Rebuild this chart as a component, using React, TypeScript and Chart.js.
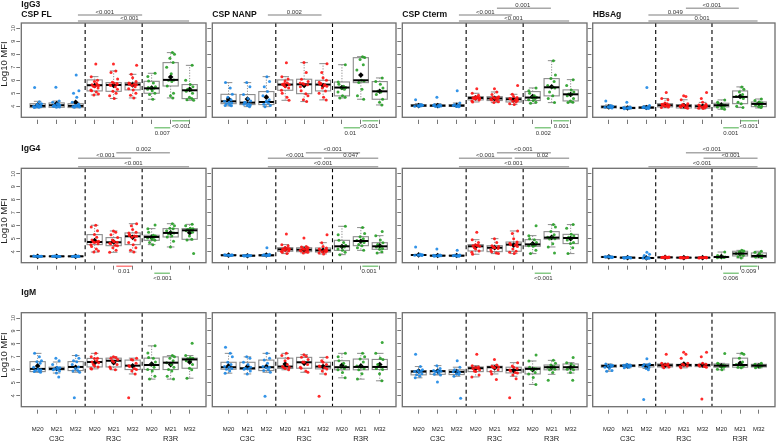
import React, { useEffect, useRef } from "react";
import { Chart, registerables } from "chart.js";
Chart.register(...registerables);

// ---------- labels ----------
const GROUP_LABELS = ["M20", "M21", "M32", "M20", "M21", "M32", "M20", "M21", "M32"];
const ARMS = ["C3C", "R3C", "R3R"];
const ARM_POS = [2, 5, 8];
const ISOTYPES = ["IgG3", "IgG4", "IgM"];
const ANTIGENS = ["CSP FL", "CSP NANP", "CSP Cterm", "HBsAg"];
const Y_TICKS = [4, 5, 6, 7, 8, 9, 10];
const Y_TITLE = "Log10 MFI";

// ---------- data: box = [lowWhisker, q1, median, q3, highWhisker, mean] ----------
// IgG3
const IGG3_CSPFL_BOX = [
  [3.88, 3.9, 4.03, 4.2, 4.38, 4.1], [3.9, 3.92, 4.08, 4.26, 4.4, 4.2], [3.88, 3.9, 4.03, 4.2, 4.3, 4.3],
  [4.87, 5.18, 5.62, 6.03, 6.28, 5.6], [4.6, 5.15, 5.64, 5.82, 6.72, 5.6], [4.64, 5.26, 5.67, 5.82, 6.46, 5.65],
  [4.54, 5.0, 5.38, 5.92, 6.54, 5.4], [4.64, 5.56, 6.03, 7.36, 8.13, 6.25], [4.46, 4.59, 5.23, 5.67, 7.15, 5.3],
];
const IGG3_CSPFL_PTS = [
  [5.45, 4.35, 4.2, 4.1, 4.05, 4.0, 4.0, 3.98, 3.95, 3.92, 3.9, 4.02, 4.15],
  [5.47, 4.4, 4.3, 4.2, 4.1, 4.08, 4.05, 4.0, 3.95, 3.92, 4.15, 4.02],
  [6.4, 5.2, 5.0, 4.7, 4.3, 4.15, 4.05, 4.0, 3.98, 3.95, 3.92, 4.02, 4.1],
  [7.25, 6.28, 6.0, 5.9, 5.75, 5.65, 5.6, 5.55, 5.5, 5.4, 5.25, 5.2, 5.1, 4.95, 4.87, 5.62],
  [7.25, 6.72, 6.6, 6.1, 5.85, 5.8, 5.7, 5.65, 5.6, 5.5, 5.3, 5.15, 5.0, 4.8, 4.6, 5.75],
  [7.15, 6.46, 6.2, 5.9, 5.8, 5.75, 5.7, 5.65, 5.6, 5.5, 5.35, 5.25, 5.0, 4.85, 4.64, 5.72],
  [6.54, 6.3, 5.95, 5.8, 5.5, 5.4, 5.38, 5.3, 5.2, 5.0, 4.9, 4.54, 5.45],
  [8.13, 8.0, 7.7, 7.36, 7.0, 6.5, 6.03, 6.0, 5.9, 5.56, 5.0, 4.8, 4.64],
  [7.15, 6.0, 5.67, 5.5, 5.3, 5.23, 5.15, 5.0, 4.7, 4.59, 4.5, 4.46],
];
const IGG3_CSPNANP_BOX = [
  [4.03, 4.2, 4.38, 4.92, 5.82, 4.55], [3.97, 4.13, 4.28, 4.9, 5.82, 4.55], [3.97, 4.13, 4.33, 5.13, 6.28, 4.7],
  [4.46, 5.23, 5.67, 6.03, 6.28, 5.6], [4.36, 4.97, 5.69, 6.08, 7.36, 5.6], [4.49, 5.18, 5.67, 6.0, 7.28, 5.6],
  [4.64, 4.8, 5.44, 5.87, 7.2, 5.45], [4.54, 5.82, 6.0, 7.74, 7.82, 6.4], [4.1, 4.54, 5.15, 5.9, 6.18, 5.15],
];
const IGG3_CSPNANP_PTS = [
  [5.82, 5.4, 4.92, 4.7, 4.5, 4.38, 4.3, 4.25, 4.2, 4.1, 4.05, 4.03],
  [5.82, 5.5, 4.9, 4.6, 4.4, 4.28, 4.2, 4.15, 4.1, 4.05, 3.97, 4.3],
  [6.28, 5.9, 5.5, 5.13, 4.8, 4.5, 4.33, 4.25, 4.15, 4.05, 3.97, 4.4],
  [7.35, 6.28, 6.1, 5.95, 5.8, 5.7, 5.65, 5.6, 5.5, 5.4, 5.23, 5.0, 4.7, 4.46, 5.75],
  [7.36, 6.6, 6.08, 5.9, 5.75, 5.7, 5.65, 5.5, 5.2, 4.97, 4.8, 4.5, 4.36, 5.8],
  [7.28, 6.6, 6.2, 6.0, 5.85, 5.7, 5.65, 5.55, 5.4, 5.18, 5.0, 4.7, 4.49, 5.75, 5.6],
  [7.2, 5.87, 5.7, 5.55, 5.45, 5.4, 5.3, 5.1, 4.8, 4.7, 4.64],
  [7.82, 7.75, 7.6, 7.2, 6.8, 6.0, 5.95, 5.82, 5.3, 4.8, 4.54],
  [6.18, 5.9, 5.7, 5.4, 5.15, 5.1, 4.9, 4.54, 4.3, 4.1],
];
const IGG3_CSPCTERM_BOX = [
  [3.97, 3.99, 4.05, 4.13, 4.2, 4.05], [3.97, 3.99, 4.05, 4.1, 4.2, 4.05], [3.97, 3.99, 4.05, 4.12, 4.25, 4.08],
  [4.33, 4.49, 4.64, 4.74, 5.0, 4.65], [4.28, 4.44, 4.6, 4.74, 5.1, 4.6], [4.13, 4.33, 4.54, 4.67, 4.92, 4.5],
  [4.23, 4.44, 4.67, 5.13, 5.41, 4.75], [4.28, 4.8, 5.46, 6.13, 7.51, 5.5], [4.28, 4.41, 4.92, 5.26, 6.05, 4.9],
];
const IGG3_CSPCTERM_PTS = [
  [4.5, 4.13, 4.08, 4.05, 4.03, 4.0, 3.98, 4.1],
  [4.7, 4.1, 4.06, 4.05, 4.02, 3.99, 3.97, 4.12],
  [5.2, 4.25, 4.12, 4.08, 4.05, 4.02, 3.99, 3.97],
  [5.35, 5.0, 4.85, 4.74, 4.7, 4.66, 4.64, 4.6, 4.55, 4.49, 4.4, 4.33, 4.68, 4.58],
  [5.35, 5.1, 4.9, 4.74, 4.7, 4.62, 4.6, 4.55, 4.48, 4.44, 4.35, 4.28, 4.66],
  [5.6, 4.92, 4.75, 4.67, 4.6, 4.55, 4.5, 4.45, 4.38, 4.33, 4.2, 4.13, 4.58],
  [5.41, 5.2, 5.0, 4.8, 4.7, 4.67, 4.6, 4.5, 4.44, 4.3, 4.23],
  [7.51, 6.4, 6.13, 5.9, 5.6, 5.46, 5.4, 5.1, 4.8, 4.6, 4.28],
  [6.05, 5.6, 5.26, 5.1, 4.95, 4.92, 4.8, 4.6, 4.41, 4.3, 4.28],
];
const IGG3_HBSAG_BOX = [
  [3.85, 3.87, 3.95, 4.03, 4.1, 3.95], [3.8, 3.82, 3.87, 3.92, 4.0, 3.87], [3.82, 3.84, 3.9, 3.95, 4.05, 3.9],
  [3.88, 3.95, 4.08, 4.2, 4.6, 4.1], [3.82, 3.87, 4.03, 4.13, 4.5, 4.05], [3.8, 3.85, 4.0, 4.1, 4.3, 4.0],
  [3.77, 3.95, 4.08, 4.23, 4.49, 4.1], [3.9, 4.2, 4.72, 5.18, 5.49, 4.75], [3.87, 3.97, 4.18, 4.33, 4.56, 4.2],
];
const IGG3_HBSAG_PTS = [
  [4.4, 4.05, 4.0, 3.96, 3.95, 3.93, 3.9, 3.87],
  [4.3, 3.95, 3.9, 3.88, 3.87, 3.85, 3.82, 3.8],
  [5.45, 4.05, 3.97, 3.93, 3.9, 3.88, 3.85, 3.82, 3.95],
  [5.05, 4.6, 4.5, 4.25, 4.2, 4.12, 4.08, 4.05, 4.0, 3.95, 3.9, 4.15, 4.02],
  [4.8, 4.75, 4.5, 4.2, 4.13, 4.08, 4.03, 4.0, 3.95, 3.9, 3.85, 4.05],
  [5.05, 4.6, 4.3, 4.15, 4.1, 4.03, 4.0, 3.98, 3.95, 3.88, 3.85, 3.82, 4.05],
  [4.49, 4.3, 4.2, 4.1, 4.08, 4.05, 4.0, 3.95, 3.85, 3.77],
  [5.49, 5.3, 5.1, 4.9, 4.75, 4.72, 4.6, 4.3, 4.2, 4.0, 3.9],
  [4.56, 4.45, 4.33, 4.25, 4.2, 4.18, 4.1, 4.0, 3.97, 3.9],
];
// IgG4
const IGG4_CSPFL_BOX = [
  [3.6, 3.62, 3.64, 3.66, 3.68, 3.64], [3.6, 3.62, 3.64, 3.66, 3.68, 3.64], [3.6, 3.62, 3.64, 3.66, 3.68, 3.64],
  [3.97, 4.54, 4.74, 5.31, 6.03, 4.85], [3.95, 4.46, 4.72, 5.08, 5.59, 4.75], [3.97, 4.54, 5.18, 5.44, 6.15, 5.1],
  [4.54, 4.87, 5.13, 5.26, 5.77, 5.1], [4.36, 5.13, 5.44, 5.77, 6.15, 5.45], [4.9, 4.95, 5.64, 5.77, 6.1, 5.45],
];
const IGG4_CSPFL_PTS = [
  [3.64, 3.63, 3.65, 3.64, 3.62, 3.66, 3.64, 3.65],
  [3.64, 3.63, 3.65, 3.64, 3.62, 3.66, 3.64, 3.65],
  [3.64, 3.63, 3.65, 3.64, 3.62, 3.66, 3.64, 3.65],
  [6.03, 5.9, 5.6, 5.31, 5.1, 4.9, 4.8, 4.74, 4.7, 4.6, 4.54, 4.4, 4.2, 4.05, 3.97, 4.76],
  [5.59, 5.5, 5.3, 5.08, 4.9, 4.8, 4.72, 4.65, 4.6, 4.5, 4.46, 4.3, 4.1, 3.95, 4.76],
  [6.15, 6.0, 5.7, 5.5, 5.44, 5.3, 5.2, 5.18, 5.1, 4.9, 4.7, 4.54, 4.3, 4.1, 3.97, 5.25],
  [6.05, 5.77, 5.5, 5.26, 5.2, 5.13, 5.1, 5.05, 4.95, 4.87, 4.7, 4.54],
  [6.15, 6.0, 5.8, 5.77, 5.6, 5.45, 5.44, 5.35, 5.2, 5.13, 4.8, 4.36],
  [6.1, 6.0, 5.8, 5.77, 5.7, 5.64, 5.6, 5.5, 5.2, 4.95, 4.9, 3.85],
];
const IGG4_CSPNANP_BOX = [
  [3.68, 3.7, 3.72, 3.77, 3.8, 3.73], [3.64, 3.66, 3.69, 3.72, 3.75, 3.69], [3.66, 3.68, 3.72, 3.76, 3.8, 3.74],
  [3.85, 4.03, 4.18, 4.31, 4.54, 4.2], [3.9, 4.0, 4.15, 4.3, 4.4, 4.15], [3.82, 3.97, 4.1, 4.28, 4.69, 4.1],
  [3.77, 4.1, 4.41, 4.87, 5.95, 4.4], [4.1, 4.46, 4.82, 5.15, 5.85, 4.8], [3.9, 4.18, 4.41, 4.69, 5.23, 4.45],
];
const IGG4_CSPNANP_PTS = [
  [3.72, 3.71, 3.74, 3.73, 3.7, 3.76, 3.72, 3.75],
  [3.69, 3.68, 3.7, 3.67, 3.71, 3.69, 3.72, 3.66],
  [4.3, 3.8, 3.76, 3.74, 3.72, 3.7, 3.68, 3.73],
  [5.35, 4.54, 4.45, 4.31, 4.25, 4.2, 4.18, 4.15, 4.1, 4.05, 4.03, 3.95, 3.85, 4.22],
  [5.05, 4.4, 4.35, 4.3, 4.22, 4.18, 4.15, 4.1, 4.05, 4.0, 3.95, 3.9, 4.2],
  [5.3, 4.69, 4.4, 4.28, 4.2, 4.13, 4.1, 4.05, 4.0, 3.97, 3.9, 3.82, 4.15],
  [5.95, 5.3, 4.87, 4.7, 4.5, 4.41, 4.35, 4.2, 4.1, 3.95, 3.77],
  [5.85, 5.4, 5.15, 5.0, 4.85, 4.82, 4.7, 4.55, 4.46, 4.3, 4.1],
  [5.55, 5.23, 4.9, 4.69, 4.55, 4.41, 4.35, 4.25, 4.18, 4.0, 3.9],
];
const IGG4_CSPCTERM_BOX = [
  [3.7, 3.72, 3.74, 3.77, 3.8, 3.75], [3.65, 3.67, 3.69, 3.72, 3.75, 3.7], [3.65, 3.67, 3.69, 3.72, 3.75, 3.7],
  [3.8, 4.05, 4.41, 4.54, 4.92, 4.4], [3.85, 4.0, 4.3, 4.46, 5.0, 4.3], [3.85, 4.03, 4.54, 4.74, 5.59, 4.5],
  [3.85, 4.41, 4.56, 4.92, 5.23, 4.6], [4.36, 4.97, 5.08, 5.54, 6.08, 5.1], [3.85, 4.62, 5.05, 5.33, 6.08, 5.0],
];
const IGG4_CSPCTERM_PTS = [
  [4.36, 3.8, 3.77, 3.75, 3.74, 3.73, 3.72, 3.7],
  [4.2, 3.75, 3.72, 3.7, 3.69, 3.68, 3.67, 3.65],
  [4.1, 3.75, 3.72, 3.7, 3.69, 3.68, 3.67, 3.65],
  [5.5, 4.92, 4.7, 4.54, 4.5, 4.45, 4.41, 4.3, 4.2, 4.05, 3.95, 3.8, 4.48],
  [5.0, 4.7, 4.46, 4.4, 4.35, 4.3, 4.25, 4.15, 4.0, 3.9, 3.85, 4.32],
  [5.59, 5.4, 5.0, 4.74, 4.65, 4.54, 4.5, 4.4, 4.2, 4.03, 3.95, 3.85, 4.6],
  [6.0, 5.23, 5.0, 4.92, 4.7, 4.56, 4.5, 4.45, 4.41, 4.1, 3.85],
  [6.08, 5.9, 5.54, 5.3, 5.1, 5.08, 5.0, 4.97, 4.6, 4.36, 3.9],
  [6.08, 5.8, 5.33, 5.2, 5.1, 5.05, 4.9, 4.7, 4.62, 4.3, 3.85],
];
const IGG4_HBSAG_BOX = [
  [3.52, 3.55, 3.59, 3.63, 3.67, 3.6], [3.48, 3.5, 3.54, 3.57, 3.6, 3.54], [3.46, 3.48, 3.51, 3.55, 3.6, 3.52],
  [3.5, 3.53, 3.56, 3.59, 3.62, 3.56], [3.5, 3.52, 3.54, 3.56, 3.58, 3.54], [3.5, 3.52, 3.54, 3.56, 3.58, 3.54],
  [3.52, 3.55, 3.59, 3.63, 3.97, 3.62], [3.52, 3.67, 3.85, 4.03, 4.1, 3.85], [3.52, 3.56, 3.67, 3.9, 4.03, 3.7],
];
const IGG4_HBSAG_PTS = [
  [3.59, 3.6, 3.58, 3.62, 3.57, 3.61, 3.59, 3.55],
  [3.54, 3.53, 3.55, 3.56, 3.52, 3.54, 3.57, 3.5],
  [3.95, 3.8, 3.7, 3.55, 3.51, 3.5, 3.48, 3.52],
  [3.56, 3.55, 3.57, 3.58, 3.54, 3.56, 3.59, 3.53, 3.6, 3.55],
  [3.54, 3.53, 3.55, 3.56, 3.52, 3.54, 3.55, 3.53, 3.54],
  [3.54, 3.55, 3.53, 3.56, 3.52, 3.54, 3.55, 3.53],
  [3.97, 3.7, 3.62, 3.6, 3.59, 3.57, 3.55, 3.53],
  [4.1, 4.05, 4.0, 3.9, 3.85, 3.8, 3.7, 3.6, 3.52],
  [4.03, 3.95, 3.85, 3.7, 3.67, 3.62, 3.58, 3.55],
];
// IgM
const IGM_CSPFL_BOX = [
  [5.81, 5.86, 6.07, 6.63, 7.27, 6.3], [5.75, 6.0, 6.07, 6.2, 6.6, 6.1], [5.81, 5.94, 6.22, 6.63, 7.1, 6.2],
  [6.07, 6.22, 6.6, 6.88, 7.27, 6.55], [6.0, 6.22, 6.7, 6.9, 7.0, 6.55], [5.68, 6.02, 6.32, 6.75, 6.9, 6.3],
  [5.28, 6.02, 6.37, 6.9, 7.85, 6.45], [5.28, 6.02, 6.55, 7.0, 7.1, 6.4], [5.35, 6.12, 6.8, 6.9, 7.1, 6.6],
];
const IGM_CSPFL_PTS = [
  [7.27, 7.0, 6.7, 6.63, 6.5, 6.2, 6.07, 6.0, 5.95, 5.9, 5.86, 5.81],
  [6.9, 6.7, 6.4, 6.2, 6.15, 6.07, 6.05, 6.0, 5.9, 5.75, 5.45],
  [7.1, 6.9, 6.7, 6.63, 6.4, 6.22, 6.1, 5.94, 5.9, 5.81, 3.85],
  [7.27, 7.0, 6.9, 6.88, 6.7, 6.6, 6.55, 6.4, 6.3, 6.22, 6.1, 6.07],
  [7.0, 6.95, 6.9, 6.8, 6.7, 6.6, 6.4, 6.22, 6.1, 6.0],
  [6.9, 6.8, 6.75, 6.5, 6.32, 6.25, 6.1, 6.02, 5.9, 5.68, 3.85],
  [7.85, 7.3, 6.95, 6.9, 6.6, 6.37, 6.2, 6.02, 5.9, 5.5, 5.28],
  [7.1, 7.0, 6.9, 6.7, 6.55, 6.4, 6.2, 6.02, 5.9, 5.5, 5.28],
  [8.05, 7.1, 6.95, 6.9, 6.85, 6.8, 6.7, 6.4, 6.12, 6.0, 5.35],
];
const IGM_CSPNANP_BOX = [
  [5.74, 6.04, 6.2, 6.58, 7.27, 6.3], [5.68, 6.04, 6.12, 6.58, 7.0, 6.25], [5.81, 5.94, 6.2, 6.75, 7.27, 6.25],
  [6.0, 6.1, 6.25, 6.9, 7.27, 6.45], [5.81, 6.12, 6.58, 6.96, 7.17, 6.5], [5.68, 6.07, 6.25, 6.58, 6.96, 6.25],
  [5.38, 6.0, 6.2, 6.7, 7.27, 6.35], [5.28, 6.0, 6.22, 6.83, 7.27, 6.3], [5.15, 6.02, 6.22, 6.8, 7.27, 6.4],
];
const IGM_CSPNANP_PTS = [
  [7.75, 7.27, 7.0, 6.58, 6.4, 6.25, 6.2, 6.1, 6.04, 5.9, 5.74],
  [7.0, 6.9, 6.58, 6.4, 6.2, 6.12, 6.08, 6.04, 5.9, 5.68],
  [7.27, 6.9, 6.75, 6.5, 6.25, 6.2, 6.15, 6.0, 5.94, 5.81, 3.95],
  [7.27, 7.1, 6.9, 6.7, 6.4, 6.25, 6.2, 6.15, 6.1, 6.0],
  [7.17, 7.05, 6.96, 6.8, 6.6, 6.58, 6.4, 6.2, 6.12, 5.9, 5.81],
  [6.96, 6.7, 6.58, 6.4, 6.3, 6.25, 6.15, 6.07, 5.9, 5.68, 3.95],
  [7.27, 7.0, 6.7, 6.5, 6.25, 6.2, 6.1, 6.0, 5.8, 5.38],
  [7.27, 7.0, 6.83, 6.6, 6.3, 6.22, 6.1, 6.0, 5.7, 5.28],
  [8.1, 7.27, 6.9, 6.8, 6.4, 6.22, 6.1, 6.02, 5.7, 5.15],
];
const IGM_CSPCTERM_BOX = [
  [5.38, 5.61, 5.86, 5.94, 6.25, 5.9], [5.6, 5.65, 5.89, 5.94, 6.32, 5.9], [5.5, 5.63, 5.84, 6.0, 6.2, 5.85],
  [5.45, 5.86, 6.12, 6.22, 6.32, 6.1], [5.68, 5.86, 6.2, 6.27, 6.37, 6.15], [5.5, 5.76, 5.99, 6.2, 6.55, 5.95],
  [4.87, 5.68, 6.07, 6.2, 6.68, 6.0], [5.65, 6.0, 6.2, 6.37, 6.73, 6.2], [5.75, 6.0, 6.2, 6.45, 6.55, 6.2],
];
const IGM_CSPCTERM_PTS = [
  [7.2, 6.25, 6.0, 5.94, 5.9, 5.86, 5.8, 5.7, 5.61, 5.5, 5.38],
  [6.32, 6.1, 5.94, 5.92, 5.89, 5.85, 5.75, 5.65, 5.6, 5.05],
  [6.7, 6.2, 6.0, 5.9, 5.84, 5.8, 5.7, 5.63, 5.5, 3.8],
  [7.2, 6.32, 6.22, 6.18, 6.12, 6.1, 6.0, 5.9, 5.86, 5.6, 5.45],
  [6.8, 6.37, 6.27, 6.22, 6.2, 6.15, 6.0, 5.86, 5.68, 5.25],
  [6.55, 6.3, 6.2, 6.1, 5.99, 5.9, 5.8, 5.76, 5.6, 5.3, 3.85],
  [7.15, 6.68, 6.2, 6.1, 6.07, 6.0, 5.8, 5.68, 5.4, 4.87],
  [6.73, 6.5, 6.37, 6.25, 6.2, 6.15, 6.05, 6.0, 5.8, 5.2],
  [6.95, 6.55, 6.45, 6.3, 6.2, 6.15, 6.05, 6.0, 5.8, 5.2],
];
const IGM_HBSAG_BOX = [
  [5.89, 6.2, 6.3, 6.37, 6.45, 6.25], [6.15, 6.25, 6.32, 6.37, 6.42, 6.3], [6.1, 6.22, 6.37, 6.4, 6.45, 6.25],
  [6.15, 6.22, 6.35, 6.45, 6.5, 6.35], [6.15, 6.25, 6.37, 6.42, 6.5, 6.45], [6.2, 6.25, 6.37, 6.42, 6.5, 6.37],
  [6.0, 6.2, 6.32, 6.45, 6.5, 6.3], [6.15, 6.2, 6.37, 6.9, 7.27, 6.5], [6.15, 6.22, 6.32, 6.42, 6.5, 6.3],
];
const IGM_HBSAG_PTS = [
  [6.45, 6.37, 6.33, 6.3, 6.25, 6.2, 6.1, 5.95, 5.89],
  [6.42, 6.37, 6.35, 6.32, 6.3, 6.25, 6.2, 6.15],
  [6.85, 6.45, 6.4, 6.37, 6.3, 6.22, 6.1, 6.0, 3.7],
  [7.2, 6.5, 6.45, 6.4, 6.35, 6.3, 6.22, 6.15],
  [7.35, 7.2, 6.9, 6.5, 6.42, 6.37, 6.3, 6.25, 6.15],
  [7.35, 7.0, 6.5, 6.42, 6.37, 6.3, 6.25, 6.2, 3.75],
  [7.25, 6.5, 6.45, 6.35, 6.32, 6.25, 6.2, 6.05, 6.0],
  [7.27, 7.2, 6.9, 6.6, 6.4, 6.37, 6.3, 6.2, 6.15],
  [6.5, 6.42, 6.38, 6.32, 6.28, 6.22, 6.15],
];

// ---------- significance annotations: [fromX, toX, labelX, level, p-value] ----------
const IGG3_CSPFL_TOP = [[3.12, 6.5, 4.53, 1, "<0.001"], [3.12, 8.97, 5.83, 2, "<0.001"]];
const IGG3_CSPFL_BOT = [[8.08, 9.0, 8.55, 0, "<0.001"], [7.14, 7.98, 7.56, 1, "0.007"]];
const IGG3_CSPNANP_TOP = [[3.08, 5.92, 4.48, 1, "0.002"]];
const IGG3_CSPNANP_BOT = [[8.08, 8.92, 8.43, 0, "<0.001"], [7.09, 7.96, 7.44, 1, "0.01"]];
const IGG3_CSPCTERM_TOP = [[5.12, 7.96, 6.48, 0, "0.001"], [3.12, 5.92, 4.51, 1, "<0.001"], [3.12, 8.92, 5.99, 2, "<0.001"]];
const IGG3_CSPCTERM_BOT = [[8.08, 8.92, 8.51, 0, "0.001"], [7.11, 7.96, 7.56, 1, "0.002"]];
const IGG3_HBSAG_TOP = [[5.11, 7.93, 6.49, 0, "<0.001"], [3.11, 5.92, 4.54, 1, "0.049"], [3.11, 8.93, 5.97, 2, "0.001"]];
const IGG3_HBSAG_BOT = [[8.05, 8.93, 8.46, 0, "<0.001"], [7.1, 7.93, 7.5, 1, "0.001"]];
const IGG4_CSPFL_TOP = [[5.14, 7.96, 6.57, 0, "0.002"], [3.13, 5.92, 4.57, 1, "<0.001"], [3.13, 8.97, 6.04, 2, "<0.001"]];
const IGG4_CSPFL_BOT = [[5.14, 5.96, 5.54, 0, "0.01"], [7.14, 7.96, 7.57, 1, "<0.001"]];
const IGG4_CSPNANP_TOP = [[5.09, 7.96, 6.51, 0, "<0.001"], [3.08, 5.92, 4.51, 1, "<0.001"], [6.05, 8.92, 7.47, 1, "0.047"], [3.08, 8.92, 6.0, 2, "<0.001"]];
const IGG4_CSPNANP_BOT = [[8.08, 8.92, 8.43, 0, "0.001"]];
const IGG4_CSPCTERM_TOP = [[5.12, 7.96, 6.51, 0, "<0.001"], [3.12, 5.92, 4.51, 1, "<0.001"], [6.05, 8.92, 7.52, 1, "0.02"], [3.12, 8.92, 5.99, 2, "<0.001"]];
const IGG4_CSPCTERM_BOT = [[7.11, 7.96, 7.56, 1, "<0.001"]];
const IGG4_HBSAG_TOP = [[5.11, 7.93, 6.49, 0, "<0.001"], [6.05, 8.93, 7.5, 1, "<0.001"], [3.11, 8.93, 5.97, 2, "<0.001"]];
const IGG4_HBSAG_BOT = [[8.05, 8.93, 8.46, 0, "0.009"], [7.1, 7.93, 7.5, 1, "0.006"]];
const NONE: any[] = [];

const PANELS = [
  [
    { box: IGG3_CSPFL_BOX, pts: IGG3_CSPFL_PTS, top: IGG3_CSPFL_TOP, bot: IGG3_CSPFL_BOT },
    { box: IGG3_CSPNANP_BOX, pts: IGG3_CSPNANP_PTS, top: IGG3_CSPNANP_TOP, bot: IGG3_CSPNANP_BOT },
    { box: IGG3_CSPCTERM_BOX, pts: IGG3_CSPCTERM_PTS, top: IGG3_CSPCTERM_TOP, bot: IGG3_CSPCTERM_BOT },
    { box: IGG3_HBSAG_BOX, pts: IGG3_HBSAG_PTS, top: IGG3_HBSAG_TOP, bot: IGG3_HBSAG_BOT },
  ],
  [
    { box: IGG4_CSPFL_BOX, pts: IGG4_CSPFL_PTS, top: IGG4_CSPFL_TOP, bot: IGG4_CSPFL_BOT },
    { box: IGG4_CSPNANP_BOX, pts: IGG4_CSPNANP_PTS, top: IGG4_CSPNANP_TOP, bot: IGG4_CSPNANP_BOT },
    { box: IGG4_CSPCTERM_BOX, pts: IGG4_CSPCTERM_PTS, top: IGG4_CSPCTERM_TOP, bot: IGG4_CSPCTERM_BOT },
    { box: IGG4_HBSAG_BOX, pts: IGG4_HBSAG_PTS, top: IGG4_HBSAG_TOP, bot: IGG4_HBSAG_BOT },
  ],
  [
    { box: IGM_CSPFL_BOX, pts: IGM_CSPFL_PTS, top: NONE, bot: NONE },
    { box: IGM_CSPNANP_BOX, pts: IGM_CSPNANP_PTS, top: NONE, bot: NONE },
    { box: IGM_CSPCTERM_BOX, pts: IGM_CSPCTERM_PTS, top: NONE, bot: NONE },
    { box: IGM_HBSAG_BOX, pts: IGM_HBSAG_PTS, top: NONE, bot: NONE },
  ],
];

// ---------- layout / style ----------
const FONT = '"Liberation Sans", Arial, Helvetica, sans-serif';
const COL_CANVAS = [[0, 210], [205, 400], [395, 591], [587, 779]];
const PLOT_X = [[21.3, 208], [212.3, 397.3], [402.3, 589.3], [592.7, 778]];
const ROW_CANVAS = [[0, 140], [140, 285], [285, 442]];
const PLOT_Y = [[23, 117.3], [168.3, 262.7], [312.7, 406.7]];
const Y_MIN = 3.15, Y_MAX = 10.41, X_MIN = 0.14, X_MAX = 9.86;
const TOP_LEVELS = [[-14.7, -8, -2], [-15.6, -10, -1.6], [0, 0, 0]];
const BOT_LEVELS = [3.5, 10.5];
const YLAB_CENTER = [64, 221, 355];
const ROW_TITLE_Y = [4.5, 149, 293];
const ANTIGEN_TITLE_Y = 15;
const ARM_LABEL_Y = 439.3;
const SEPARATORS = [3.5, 6.5];
const JIT = [-0.16, 0.09, 0.2, -0.04, 0.13, -0.21, 0.03, 0.17, -0.11, 0.06, -0.18, 0.15, -0.01, 0.11, -0.14, 0.21, -0.07, 0.0, 0.18, -0.2];
const ARM_POINT = ["rgba(30,136,229,0.9)", "rgba(255,20,20,0.9)", "rgba(40,160,40,0.9)"];
const ARM_LINE = ["#5b9bd5", "#ff6060", "#66bb66"];

function seg(ctx: CanvasRenderingContext2D, x1: number, y1: number, x2: number, y2: number) {
  ctx.beginPath();
  ctx.moveTo(x1, y1);
  ctx.lineTo(x2, y2);
  ctx.stroke();
}

function Panel({ r, c }: { r: number; c: number }) {
  const ref = useRef<HTMLCanvasElement>(null);
  const [cx0, cx1] = COL_CANVAS[c];
  const [cy0, cy1] = ROW_CANVAS[r];
  const W = cx1 - cx0;
  const H = cy1 - cy0;

  useEffect(() => {
    const p: any = PANELS[r][c];
    const [px0, px1] = PLOT_X[c];
    const [py0, py1] = PLOT_Y[r];
    const last = r === 2;
    const xAxisH = last ? 26 : 8;
    const padBottom = cy1 - py1 - xAxisH;
    const yAxisW = px0 - cx0;

    const datasets: any[] = [0, 1, 2].map((arm) => {
      const data: any[] = [];
      for (let g = arm * 3; g < arm * 3 + 3; g++) {
        p.pts[g].forEach((v: number, i: number) => {
          data.push({ x: g + 1 + JIT[(i + g * 3) % JIT.length], y: v });
        });
      }
      return {
        type: "scatter",
        data,
        backgroundColor: ARM_POINT[arm],
        borderWidth: 0,
        pointRadius: 1.5,
      };
    });
    datasets.push({
      type: "scatter",
      data: p.box.map((b: number[], g: number) => ({ x: g + 1, y: b[5] })),
      backgroundColor: "#000",
      borderWidth: 0,
      pointStyle: "rectRot",
      pointRadius: 2.8,
    });

    const decor = {
      id: "decor",
      beforeDatasetsDraw(chart: any) {
        const { ctx, chartArea: a, scales } = chart;
        const xs = scales.x, ys = scales.y;
        ctx.save();
        ctx.strokeStyle = "#000";
        ctx.lineWidth = 1.1;
        ctx.setLineDash([4, 3]);
        SEPARATORS.forEach((s) => {
          const px = xs.getPixelForValue(s);
          seg(ctx, px, a.top, px, a.bottom);
        });
        p.box.forEach((b: number[], g: number) => {
          const cx = xs.getPixelForValue(g + 1);
          const hw = xs.getPixelForValue(g + 1.4) - cx;
          const [lo, q1, , q3, hi] = b.map((v) => ys.getPixelForValue(v));
          ctx.strokeStyle = "#8c8c8c";
          ctx.lineWidth = 1;
          ctx.setLineDash([1.2, 1.5]);
          seg(ctx, cx, q3, cx, hi);
          seg(ctx, cx, q1, cx, lo);
          ctx.setLineDash([]);
          seg(ctx, cx - hw / 2, hi, cx + hw / 2, hi);
          seg(ctx, cx - hw / 2, lo, cx + hw / 2, lo);
          ctx.fillStyle = "rgba(255,255,255,0.35)";
          ctx.fillRect(cx - hw, q3, 2 * hw, q1 - q3);
          ctx.lineWidth = 1.1;
          ctx.strokeRect(cx - hw, q3, 2 * hw, q1 - q3);
        });
        ctx.restore();
      },
      afterDatasetDraw(chart: any, args: any) {
        if (args.index !== 2) return;
        const { ctx, scales } = chart;
        const xs = scales.x, ys = scales.y;
        ctx.save();
        ctx.strokeStyle = "#000";
        ctx.lineWidth = 2;
        p.box.forEach((b: number[], g: number) => {
          const cx = xs.getPixelForValue(g + 1);
          const hw = xs.getPixelForValue(g + 1.4) - cx;
          const m = ys.getPixelForValue(b[2]);
          seg(ctx, cx - hw, m, cx + hw, m);
        });
        ctx.restore();
      },
      afterDraw(chart: any) {
        const { ctx, chartArea: a, scales } = chart;
        const xs = scales.x, ys = scales.y;
        ctx.save();
        ctx.strokeStyle = "#6e6e6e";
        ctx.lineWidth = 1.3;
        ctx.strokeRect(a.left, a.top, a.right - a.left, a.bottom - a.top);
        ctx.font = `6px ${FONT}`;
        ctx.textAlign = "center";
        p.top.forEach(([x1, x2, tx, lvl, label]: any) => {
          const yy = a.top + TOP_LEVELS[r][lvl];
          ctx.strokeStyle = "#a8a8a8";
          ctx.lineWidth = 1.4;
          seg(ctx, xs.getPixelForValue(x1), yy, xs.getPixelForValue(x2), yy);
          ctx.fillStyle = "#333";
          ctx.textBaseline = "alphabetic";
          ctx.fillText(label, xs.getPixelForValue(tx), yy - 1.5);
        });
        p.bot.forEach(([x1, x2, tx, lvl, label]: any) => {
          const yy = a.bottom + BOT_LEVELS[lvl];
          const arm = Math.min(2, Math.floor((x1 - 0.5) / 3));
          ctx.strokeStyle = ARM_LINE[arm];
          ctx.lineWidth = 1.2;
          seg(ctx, xs.getPixelForValue(x1), yy, xs.getPixelForValue(x2), yy);
          ctx.fillStyle = "#333";
          ctx.textBaseline = "middle";
          ctx.fillText(label, xs.getPixelForValue(tx), yy + 5.3);
        });
        // arm labels under the bottom row
        if (last) {
          ctx.fillStyle = "#222";
          ctx.font = `7.6px ${FONT}`;
          ctx.textAlign = "center";
          ctx.textBaseline = "middle";
          ARM_POS.forEach((v, k) => ctx.fillText(ARMS[k], xs.getPixelForValue(v), ARM_LABEL_Y - cy0));
        }
        ctx.fillStyle = "#111";
        ctx.textAlign = "left";
        ctx.textBaseline = "middle";
        ctx.font = `bold 8.6px ${FONT}`;
        if (c === 0) ctx.fillText(ISOTYPES[r], a.left, ROW_TITLE_Y[r] - cy0);
        if (r === 0) ctx.fillText(ANTIGENS[c], a.left, ANTIGEN_TITLE_Y - cy0);
        if (c === 0) {
          ctx.fillStyle = "#444";
          ctx.font = `5.5px ${FONT}`;
          ctx.textAlign = "center";
          ys.ticks.forEach((t: any) => {
            const py = ys.getPixelForValue(t.value);
            ctx.save();
            ctx.translate(a.left - 8, py);
            ctx.rotate(-Math.PI / 2);
            ctx.fillText(String(t.value), 0, 0);
            ctx.restore();
          });
          ctx.fillStyle = "#222";
          ctx.font = `9.5px ${FONT}`;
          ctx.save();
          ctx.translate(4.8, YLAB_CENTER[r] - cy0);
          ctx.rotate(-Math.PI / 2);
          ctx.fillText(Y_TITLE, 0, 0);
          ctx.restore();
        }
        ctx.restore();
      },
    };

    const scales: any = {
      x: {
        type: "linear",
        position: "bottom",
        min: X_MIN,
        max: X_MAX,
        afterBuildTicks: (s: any) => {
          s.ticks = GROUP_LABELS.map((_, i) => ({ value: i + 1 }));
        },
        afterFit: (s: any) => {
          s.height = xAxisH;
        },
        border: { display: false },
        grid: {
          display: true,
          drawOnChartArea: false,
          drawTicks: true,
          tickLength: 7,
          tickColor: "#777",
          tickWidth: 1,
          tickBorderDash: [0, 2.7, 4.3, 20],
        },
        ticks: {
          display: last,
          autoSkip: false,
          maxRotation: 0,
          minRotation: 0,
          padding: 11.9,
          color: "#222",
          font: { family: FONT, size: 6 },
          callback: (v: any) => GROUP_LABELS[Math.round(Number(v)) - 1] ?? "",
        },
      },
      y: {
        type: "linear",
        position: "left",
        min: Y_MIN,
        max: Y_MAX,
        afterBuildTicks: (s: any) => {
          s.ticks = Y_TICKS.map((v) => ({ value: v }));
        },
        afterFit: (s: any) => {
          s.width = yAxisW;
        },
        border: { display: false },
        grid: {
          display: true,
          drawOnChartArea: false,
          drawTicks: true,
          tickLength: 5,
          tickColor: "#777",
          tickWidth: 1,
          tickBorderDash: [3.7, 20],
        },
        ticks: { display: false },
      },
    };

    const chart = new Chart(ref.current as HTMLCanvasElement, {
      type: "scatter",
      data: { datasets },
      options: {
        responsive: false,
        animation: false,
        events: [],
        layout: {
          padding: { left: 0, right: cx1 - px1, top: py0 - cy0, bottom: padBottom },
        },
        plugins: { legend: { display: false }, tooltip: { enabled: false }, title: { display: false } },
        scales,
      },
      plugins: [decor],
    } as any);
    return () => chart.destroy();
  }, [r, c]);

  return (
    <canvas
      ref={ref}
      width={W}
      height={H}
      style={{ position: "absolute", left: cx0, top: cy0, width: W, height: H }}
    />
  );
}

export default function App() {
  const cells: any[] = [];
  for (let r = 0; r < 3; r++) for (let c = 0; c < 4; c++) cells.push(<Panel key={`${r}-${c}`} r={r} c={c} />);
  return (
    <div style={{ position: "fixed", left: 0, top: 0, width: 779, height: 442, background: "#fff", overflow: "hidden" }}>
      {cells}
    </div>
  );
}
